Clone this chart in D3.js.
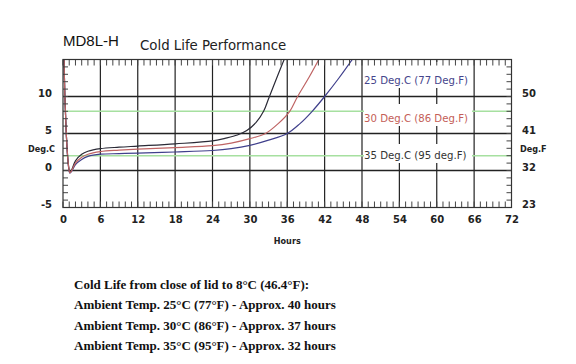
<!DOCTYPE html>
<html><head><meta charset="utf-8">
<script src="https://cdn.jsdelivr.net/npm/d3@7"></script>
<style>
html,body{margin:0;padding:0;background:#fff;}
svg{display:block;}
</style></head>
<body>
<svg id="c" width="576" height="364"></svg>
<script>
// ---------- data ----------
const xTickValues = [0, 6, 12, 18, 24, 30, 36, 42, 48, 54, 60, 66, 72];
const yTickValues = [-5, 0, 5, 10];
const cTickLabels = ["-5", "0", "5", "10"];
const fTickLabels = ["23", "32", "41", "50"];
const refLines = [8, 2];
const seriesNames = ["25 Deg.C (77 Deg.F)", "30 Deg.C (86 Deg.F)", "35 Deg.C (95 deg.F)"];
const hours25 = [0.15, 0.3, 0.5, 0.7, 0.9, 1.1, 1.4, 2, 3, 4, 6, 9, 12, 18, 24, 27, 30, 33, 36, 38, 40, 42, 44.3, 46.6];
const temp25  = [16, 10, 5.5, 2.3, 0.4, -0.35, -0.1, 0.8, 1.5, 1.9, 2.2, 2.28, 2.35, 2.5, 2.7, 2.95, 3.4, 4.1, 5.0, 6.3, 8.0, 10.0, 12.5, 15.2];
const hours30 = [0.15, 0.3, 0.5, 0.7, 0.9, 1.1, 1.4, 2, 3, 4, 6, 9, 12, 18, 24, 27, 30, 32.5, 34.5, 36.4, 37.6, 39.5, 41.2];
const temp30  = [16, 10, 5.5, 2.4, 0.5, -0.3, 0, 1.0, 1.8, 2.2, 2.55, 2.75, 2.9, 3.1, 3.35, 3.7, 4.3, 5.0, 6.3, 8.0, 9.9, 12.6, 15.2];
const hours35 = [0.15, 0.3, 0.5, 0.7, 0.9, 1.1, 1.4, 2, 3, 4, 6, 9, 12, 18, 24, 26, 28, 29.5, 31, 32.2, 33, 34.5, 35.6];
const temp35  = [16, 10, 5.5, 2.5, 0.6, -0.25, 0.1, 1.3, 2.2, 2.6, 2.95, 3.15, 3.3, 3.6, 4.0, 4.35, 4.8, 5.4, 6.5, 8.0, 9.7, 12.9, 15.2];
const noteLines = [
  "Cold Life from close of lid to 8°C (46.4°F):",
  "Ambient Temp. 25°C (77°F) - Approx. 40 hours",
  "Ambient Temp. 30°C (86°F) - Approx. 37 hours",
  "Ambient Temp. 35°C (95°F) - Approx. 32 hours"
];

// ---------- drawing ----------
const svg = d3.select("#c");
const L = 63, R = 511.5, T = 59.5, B = 207.5;
const x = d3.scaleLinear().domain([0, 72]).range([L, R]);
const y = d3.scaleLinear().domain([-5, 15]).range([B, T]);

const gridColor = "#222";
svg.append("g").selectAll("line").data(xTickValues.filter(v => v > 0 && v < 72)).join("line")
  .attr("x1", d => x(d)).attr("x2", d => x(d)).attr("y1", T).attr("y2", B)
  .attr("stroke", gridColor).attr("stroke-width", 1.2);
svg.append("g").selectAll("line").data(yTickValues.filter(v => v > -5)).join("line")
  .attr("x1", L).attr("x2", R).attr("y1", d => y(d)).attr("y2", d => y(d))
  .attr("stroke", gridColor).attr("stroke-width", 1.3);
svg.append("g").selectAll("line").data(refLines).join("line")
  .attr("x1", L).attr("x2", R).attr("y1", d => y(d)).attr("y2", d => y(d))
  .attr("stroke", "#a6e0a0").attr("stroke-width", 1.6);

// legend boxes + labels
const labelColors = ["#45458c", "#c45e58", "#333"];
const boxes = [[62, 88], [104, 126], [144, 163]];
const labelBase = [84, 122, 159];
svg.append("g").selectAll("rect").data(boxes).join("rect")
  .attr("x", 364).attr("width", 108).attr("y", d => d[0]).attr("height", d => d[1] - d[0])
  .attr("fill", "#fff");
svg.append("g").selectAll("text").data(seriesNames).join("text")
  .attr("x", 364).attr("y", (d, i) => labelBase[i])
  .attr("fill", (d, i) => labelColors[i])
  .style("font-family", "'DejaVu Sans Condensed','DejaVu Sans',sans-serif")
  .style("font-size", "11.3px")
  .text(d => d);

// curves
svg.append("clipPath").attr("id", "clip").append("rect")
  .attr("x", L).attr("y", T).attr("width", R - L).attr("height", B - T);
const line = d3.line().x(d => x(d[0])).y(d => y(d[1])).curve(d3.curveCatmullRom.alpha(0.5));
const curves = [
  { h: hours25, t: temp25, c: "#40408c" },
  { h: hours35, t: temp35, c: "#2a2a36" },
  { h: hours30, t: temp30, c: "#bf6464" }
];
svg.append("g").attr("clip-path", "url(#clip)").selectAll("path").data(curves).join("path")
  .attr("d", d => line(d.h.map((h, i) => [h, d.t[i]])))
  .attr("fill", "none").attr("stroke", d => d.c).attr("stroke-width", 1.2);

// minor ticks
const tickColor = "#444";
const hourTicks = d3.range(0, 73, 1);
const degTicks = d3.range(-5, 16, 1);
svg.append("g").selectAll("line").data(hourTicks).join("line")
  .attr("x1", d => x(d)).attr("x2", d => x(d)).attr("y1", T).attr("y2", T + 6)
  .attr("stroke", tickColor).attr("stroke-width", 1);
svg.append("g").selectAll("line").data(hourTicks).join("line")
  .attr("x1", d => x(d)).attr("x2", d => x(d)).attr("y1", B).attr("y2", B - 6)
  .attr("stroke", tickColor).attr("stroke-width", 1);
svg.append("g").selectAll("line").data(degTicks).join("line")
  .attr("x1", L).attr("x2", L + 5).attr("y1", d => y(d)).attr("y2", d => y(d))
  .attr("stroke", tickColor).attr("stroke-width", 1);
svg.append("g").selectAll("line").data(degTicks).join("line")
  .attr("x1", R).attr("x2", R - 5).attr("y1", d => y(d)).attr("y2", d => y(d))
  .attr("stroke", tickColor).attr("stroke-width", 1);

svg.append("rect").attr("x", L).attr("y", T).attr("width", R - L).attr("height", B - T)
  .attr("fill", "none").attr("stroke", "#333").attr("stroke-width", 1.2);

// axes labels
const numFont = "'DejaVu Sans',sans-serif";
const xAxis = svg.append("g").attr("transform", `translate(0,${B})`)
  .call(d3.axisBottom(x).tickValues(xTickValues).tickSize(0).tickPadding(8));
const yAxis = svg.append("g").attr("transform", `translate(${L},0)`)
  .call(d3.axisLeft(y).tickValues(yTickValues).tickSize(0).tickPadding(11)
    .tickFormat((d, i) => cTickLabels[i]));
const fAxis = svg.append("g").attr("transform", `translate(${R},0)`)
  .call(d3.axisRight(y).tickValues(yTickValues).tickSize(0).tickPadding(10.5)
    .tickFormat((d, i) => fTickLabels[i]));
[xAxis, yAxis, fAxis].forEach(g => {
  g.select(".domain").remove();
  g.selectAll("text").attr("fill", "#222")
    .style("font-family", numFont).style("font-weight", "bold").style("font-size", "10px");
});
yAxis.selectAll("text").attr("dy", "0em");
fAxis.selectAll("text").attr("dy", "0em");

const smallBold = s => s.style("font-family", "'DejaVu Sans Condensed','DejaVu Sans',sans-serif")
  .style("font-weight", "bold").style("font-size", "9px").attr("fill", "#222");
svg.append("text").attr("x", 55).attr("y", 152).attr("text-anchor", "end").call(smallBold).text("Deg.C");
svg.append("text").attr("x", 520).attr("y", 152).call(smallBold).text("Deg.F");
svg.append("text").attr("x", x(36)).attr("y", 243.5).attr("text-anchor", "middle").call(smallBold).text("Hours");

svg.append("text").attr("x", 63).attr("y", 46).attr("fill", "#111")
  .style("font-family", "'Liberation Sans',Arial,sans-serif").style("font-size", "15px").text("MD8L-H");
svg.append("text").attr("x", 140).attr("y", 50).attr("fill", "#222")
  .style("font-family", "'DejaVu Sans Condensed','DejaVu Sans',sans-serif").style("font-size", "14.8px")
  .text("Cold Life Performance");

svg.append("g").selectAll("text").data(noteLines).join("text")
  .attr("x", 74).attr("y", (d, i) => 289 + i * 20.3)
  .attr("fill", "#111")
  .style("font-family", "'Liberation Serif','Times New Roman',serif")
  .style("font-weight", "bold").style("font-size", "13px")
  .text(d => d);
</script>
</body></html>
